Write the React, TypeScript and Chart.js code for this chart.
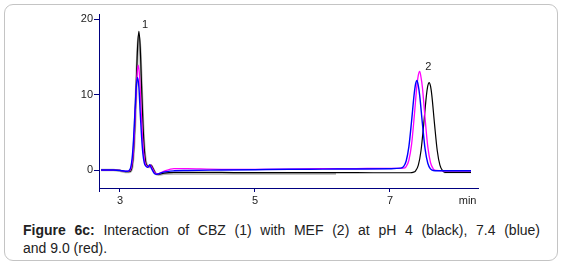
import { useEffect, useRef } from 'react';
import { Chart, registerables } from 'chart.js';

Chart.register(...registerables);

// ---- data (time in min, signal) ----
const blackT = [2.72, 2.9, 3.0, 3.08, 3.13, 3.16, 3.18, 3.2, 3.22, 3.24, 3.26, 3.28, 3.3, 3.32, 3.34, 3.36, 3.38, 3.4, 3.43, 3.46, 3.49, 3.53, 3.57, 3.65, 3.8, 4.0, 4.5, 5.0, 5.5, 6.0, 6.5, 7.0, 7.3, 7.34, 7.38, 7.42, 7.46, 7.5, 7.54, 7.56, 7.58, 7.6, 7.62, 7.66, 7.7, 7.74, 7.78, 7.82, 7.95, 8.2];
const blackV = [0, 0, -0.05, -0.2, -0.2, -0.1, 0.5, 2.35, 5.9, 11.1, 16.2, 18.4, 16.2, 11.1, 6.2, 2.8, 1.1, 0.6, 0.45, 0.65, 0.2, -0.45, -0.55, -0.4, -0.3, -0.3, -0.32, -0.35, -0.35, -0.35, -0.35, -0.36, -0.36, -0.3, -0.1, 0.66, 2.6, 6.1, 9.9, 11.15, 11.6, 11.15, 9.9, 6.1, 2.6, 0.66, -0.1, -0.3, -0.3, -0.3];

const magentaT = [2.72, 2.9, 3.0, 3.08, 3.12, 3.15, 3.17, 3.19, 3.21, 3.23, 3.25, 3.27, 3.29, 3.31, 3.33, 3.35, 3.37, 3.39, 3.42, 3.45, 3.48, 3.52, 3.56, 3.64, 3.8, 4.0, 4.5, 5.0, 5.5, 6.0, 6.5, 7.0, 7.2, 7.24, 7.28, 7.32, 7.36, 7.4, 7.42, 7.44, 7.46, 7.48, 7.52, 7.56, 7.6, 7.64, 7.68, 7.8, 8.2];
const magentaV = [0, 0, -0.05, -0.15, -0.15, 0.0, 0.45, 1.75, 4.45, 8.35, 12.25, 13.9, 12.4, 8.5, 4.9, 2.3, 1.0, 0.6, 0.4, 0.7, 0.2, -0.4, -0.5, -0.2, 0.2, 0.18, 0.1, 0.1, 0.12, 0.18, 0.2, 0.22, 0.25, 0.47, 1.3, 3.4, 7.15, 11.3, 12.6, 13.1, 12.3, 11.0, 6.85, 3.1, 1.0, 0.17, -0.05, -0.1, -0.1];

const blueT = [2.72, 2.9, 3.0, 3.08, 3.11, 3.14, 3.16, 3.18, 3.2, 3.22, 3.24, 3.26, 3.28, 3.3, 3.32, 3.34, 3.36, 3.38, 3.41, 3.44, 3.47, 3.51, 3.55, 3.63, 3.8, 4.0, 4.5, 5.0, 5.5, 6.0, 6.5, 7.0, 7.16, 7.2, 7.24, 7.28, 7.32, 7.36, 7.38, 7.4, 7.42, 7.44, 7.48, 7.52, 7.56, 7.6, 7.64, 7.8, 8.2];
const blueV = [0, 0, -0.05, -0.15, -0.15, 0.0, 0.4, 1.55, 3.9, 7.4, 10.85, 12.3, 11.0, 7.55, 4.4, 2.1, 0.95, 0.55, 0.35, 0.7, 0.15, -0.45, -0.55, -0.3, -0.1, -0.05, 0.0, 0.05, 0.1, 0.12, 0.15, 0.18, 0.25, 0.45, 1.2, 3.1, 6.5, 10.2, 11.45, 11.9, 11.15, 9.9, 6.2, 2.8, 0.9, 0.15, -0.05, -0.1, -0.1];

const greyT = [2.72, 2.9, 3.0, 3.08, 3.13, 3.16, 3.18, 3.2, 3.22, 3.24, 3.26, 3.28, 3.3, 3.32, 3.34, 3.36, 3.38, 3.4, 3.43, 3.46, 3.49, 3.53, 3.57, 3.65, 3.8, 4.5, 5.5, 6.2, 6.5, 7.8, 7.9, 8.2];
const greyV = [0, 0, -0.1, -0.25, -0.25, -0.15, 0.4, 2.2, 5.6, 10.6, 15.6, 17.8, 15.8, 11.0, 6.3, 2.9, 1.2, 0.6, 0.4, 0.6, 0.15, -0.5, -0.6, -0.5, -0.45, -0.45, -0.45, -0.45, null, -0.25, -0.25, -0.25];

const xTickValues = [2.689, 3, 5, 7, 8.15];
const xTickText = ['', '3', '5', '7', 'min'];
const yTickValues = [0, 10, 20];

const peakNames = ['1', '2'];
const peakLabelT = [3.37, 7.567];
const peakLabelV = [19.3, 13.7];

const X_MIN = 2.689;
const X_MAX = 8.304;
const Y_MIN = -2.38;
const Y_MAX = 20.7;

const NAVY = '#000080';
const FONT = '"Liberation Sans", Arial, sans-serif';

function pts(t: number[], v: (number | null)[]) {
  return t.map((x, i) => ({ x, y: v[i] }));
}

export default function App() {
  const ref = useRef<HTMLCanvasElement>(null);

  useEffect(() => {
    const labelPlugin = {
      id: 'peakLabels',
      afterDatasetsDraw(chart: any) {
        const { ctx, scales } = chart;
        ctx.save();
        ctx.font = `11px ${FONT}`;
        ctx.fillStyle = '#222';
        ctx.textAlign = 'center';
        ctx.textBaseline = 'middle';
        peakNames.forEach((n, i) => {
          ctx.fillText(n, scales.x.getPixelForValue(peakLabelT[i]), scales.y.getPixelForValue(peakLabelV[i]));
        });
        ctx.restore();
      },
    };

    const chart = new Chart(ref.current!, {
      type: 'line',
      data: {
        datasets: [
          { data: pts(blueT, blueV), borderColor: '#0000ff', borderWidth: 1.4, order: 1 },
          { data: pts(magentaT, magentaV), borderColor: '#ff00ff', borderWidth: 1.3, order: 2 },
          { data: pts(blackT, blackV), borderColor: '#000000', borderWidth: 1.2, order: 3 },
          { data: pts(greyT, greyV), borderColor: '#b4b4b4', borderWidth: 2.6, order: 4, spanGaps: false },
        ] as any,
      },
      options: {
        animation: false,
        responsive: false,
        maintainAspectRatio: false,
        layout: { padding: { top: 10, right: 4, left: 0, bottom: 0 } },
        plugins: { legend: { display: false }, tooltip: { enabled: false } },
        elements: {
          point: { radius: 0 },
          line: { cubicInterpolationMode: 'monotone', fill: false },
        },
        scales: {
          x: {
            type: 'linear',
            min: X_MIN,
            max: X_MAX,
            afterBuildTicks: (s: any) => {
              s.ticks = xTickValues.map((v) => ({ value: v }));
            },
            afterFit: (s: any) => {
              s.height = 18;
            },
            ticks: {
              autoSkip: false,
              maxRotation: 0,
              padding: 2,
              color: '#222',
              font: { family: FONT, size: 11 },
              callback: (_v: any, i: number) => xTickText[i],
            },
            grid: {
              display: true,
              drawOnChartArea: false,
              drawTicks: true,
              tickLength: 4,
              color: NAVY,
              tickColor: (c: any) => (c.index === xTickValues.length - 1 ? 'rgba(0,0,0,0)' : NAVY),
            },
            border: { display: true, color: NAVY, width: 1 },
          },
          y: {
            type: 'linear',
            min: Y_MIN,
            max: Y_MAX,
            afterBuildTicks: (s: any) => {
              s.ticks = yTickValues.map((v) => ({ value: v }));
            },
            afterFit: (s: any) => {
              s.width = 39;
            },
            ticks: {
              padding: 1,
              color: '#222',
              font: { family: FONT, size: 11 },
              callback: (v: any) => String(v),
            },
            grid: {
              display: true,
              drawOnChartArea: false,
              drawTicks: true,
              tickLength: 5,
              color: NAVY,
              tickColor: NAVY,
            },
            border: { display: true, color: NAVY, width: 1 },
          },
        },
      } as any,
      plugins: [labelPlugin],
    });
    return () => chart.destroy();
  }, []);

  return (
    <div style={{ position: 'absolute', left: 0, top: 0, width: 564, height: 265, background: '#fff', fontFamily: FONT }}>
      <div
        style={{
          position: 'absolute',
          left: 4,
          top: 4,
          width: 554,
          height: 257,
          boxSizing: 'border-box',
          border: '1px solid #c4c4c4',
          borderRadius: 9,
        }}
      />
      <canvas
        ref={ref}
        width={422}
        height={202}
        style={{ position: 'absolute', left: 60, top: 4, width: 422, height: 202 }}
      />
      <div
        style={{
          position: 'absolute',
          left: 23,
          top: 221,
          width: 517,
          fontSize: 14,
          lineHeight: '18px',
          color: '#222',
        }}
      >
        <div style={{ textAlign: 'justify', textAlignLast: 'justify' as any }}>
          <b>Figure 6c:</b> Interaction of CBZ (1) with MEF (2) at pH 4 (black), 7.4 (blue)
        </div>
        <div>and 9.0 (red).</div>
      </div>
    </div>
  );
}
